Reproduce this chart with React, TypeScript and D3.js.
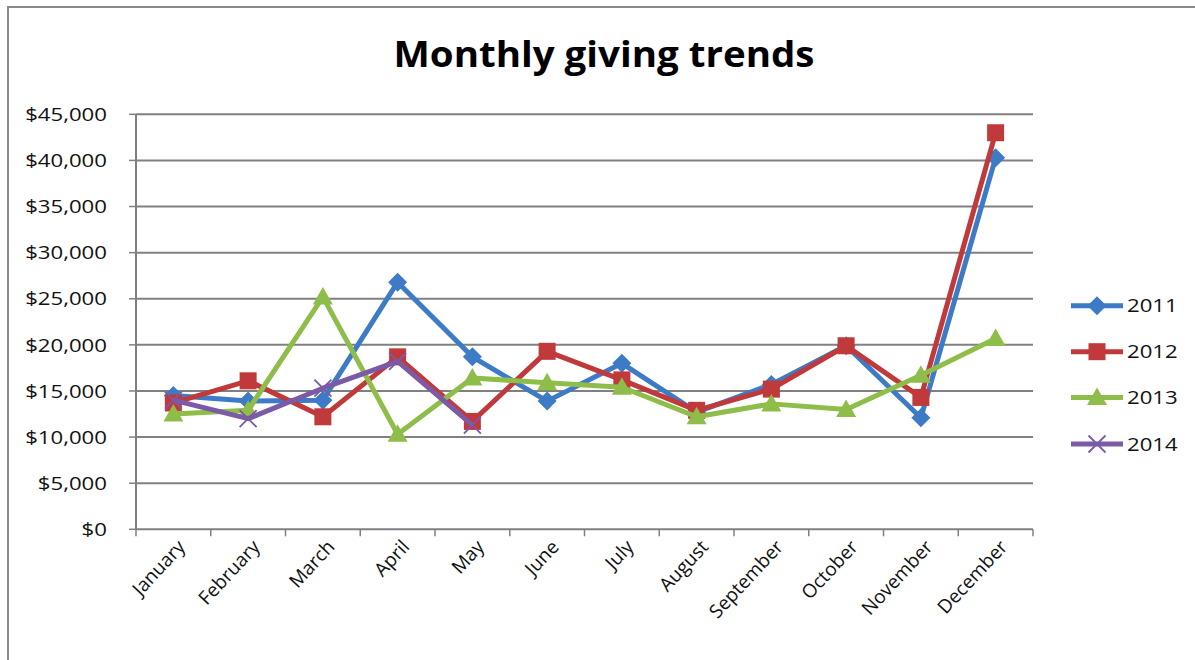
import React from "react";
import * as d3 from "d3";

const months = ["January","February","March","April","May","June","July","August","September","October","November","December"];
const series2011 = [14500, 13900, 14000, 26800, 18700, 13900, 18000, 12700, 15700, 19900, 12100, 40300];
const series2012 = [13700, 16100, 12200, 18700, 11700, 19300, 16200, 12900, 15200, 19900, 14300, 43000];
const series2013 = [12500, 12900, 25200, 10300, 16400, 15900, 15400, 12200, 13600, 13000, 16700, 20700];
const series2014 = [14000, 12000, 15300, 18200, 11300];
const seriesNames = ["2011", "2012", "2013", "2014"];
const yTicks = [0, 5000, 10000, 15000, 20000, 25000, 30000, 35000, 40000, 45000];
const title = "Monthly giving trends";

const colors = ["#3d7bc6", "#c0393b", "#8fbd4a", "#7b5aa6"];
const markers = ["diamond", "square", "triangle", "x"];

function Marker({ type, x, y, color }: { type: string; x: number; y: number; color: string }) {
  if (type === "diamond") {
    const s = 9.5;
    return <path d={`M${x},${y - s}L${x + s},${y}L${x},${y + s}L${x - s},${y}Z`} fill={color} />;
  }
  if (type === "square") {
    const s = 8.5;
    return <rect x={x - s} y={y - s} width={2 * s} height={2 * s} fill={color} />;
  }
  if (type === "triangle") {
    const s = 10;
    return <path d={`M${x},${y - s}L${x + s},${y + s * 0.75}L${x - s},${y + s * 0.75}Z`} fill={color} />;
  }
  const s = 8.5;
  return (
    <path d={`M${x - s},${y - s}L${x + s},${y + s}M${x - s},${y + s}L${x + s},${y - s}`} stroke={color} strokeWidth={1.8} fill="none" />
  );
}

export default function App() {
  const W = 1195, H = 660;
  const left = 136, right = 1033, top = 114.3, bottom = 529.3;
  const x = d3.scaleBand<string>().domain(months).range([left, right]);
  const y = d3.scaleLinear().domain([0, 45000]).range([bottom, top]);
  const cx = (m: string) => (x(m) as number) + x.bandwidth() / 2;
  const line = d3.line<number>().x((_, i) => cx(months[i])).y((d) => y(d));
  const data = [series2011, series2012, series2013, series2014];
  const fmt = (v: number) => "$" + d3.format(",")(v);
  const font = "'Open Sans', sans-serif";
  const legendY = [305.7, 351.7, 397.5, 444];
  const textColor = "#111";

  return (
    <svg width={W} height={H} style={{ position: "absolute", left: 0, top: 0, background: "#fff" }}>
      <rect x={0} y={0} width={W} height={H} fill="#fff" />
      <path d={`M8,${H}L8,7L${W},7`} stroke="#8a8a8a" strokeWidth={2} fill="none" />
      <text
        transform={`translate(604,67) scale(1.1,1)`}
        textAnchor="middle"
        fontFamily={font}
        fontWeight={700}
        fontSize={35}
        fill="#000"
      >
        {title}
      </text>
      {yTicks.map((t) => (
        <g key={t}>
          {t > 0 && <line x1={left} x2={right} y1={y(t)} y2={y(t)} stroke="#808080" strokeWidth={2} />}
          <line x1={left - 7} x2={left} y1={y(t)} y2={y(t)} stroke="#808080" strokeWidth={1.5} />
          <text
            transform={`translate(107,${y(t)}) scale(1.2,1)`}
            dy="0.36em"
            textAnchor="end"
            fontFamily={font}
            fontSize={18.5}
            fill={textColor}
          >
            {fmt(t)}
          </text>
        </g>
      ))}
      <line x1={left} x2={left} y1={top} y2={bottom} stroke="#808080" strokeWidth={2} />
      <line x1={left} x2={right} y1={bottom} y2={bottom} stroke="#808080" strokeWidth={2} />
      {[...months.map((m) => x(m) as number), right].map((v, i) => (
        <line key={i} x1={v} x2={v} y1={bottom} y2={bottom + 7} stroke="#808080" strokeWidth={1.5} />
      ))}
      {months.map((m) => (
        <text
          key={m}
          transform={`translate(${cx(m) + 8},${bottom + 14}) rotate(-47)`}
          textAnchor="end"
          dy="0.35em"
          fontFamily={font}
          fontSize={19}
          fill={textColor}
        >
          {m}
        </text>
      ))}
      {data.map((s, si) => (
        <g key={si}>
          <path d={line(s) || ""} fill="none" stroke={colors[si]} strokeWidth={5} strokeLinejoin="round" />
          {s.map((v, i) => (
            <Marker key={i} type={markers[si]} x={cx(months[i])} y={y(v)} color={colors[si]} />
          ))}
        </g>
      ))}
      {seriesNames.map((n, i) => (
        <g key={n}>
          <line x1={1071} x2={1123} y1={legendY[i]} y2={legendY[i]} stroke={colors[i]} strokeWidth={5} />
          <Marker type={markers[i]} x={1097} y={legendY[i]} color={colors[i]} />
          <text
            transform={`translate(1127,${legendY[i]}) scale(1.2,1)`}
            dy="0.36em"
            fontFamily={font}
            fontSize={18.5}
            fill={textColor}
          >
            {n}
          </text>
        </g>
      ))}
    </svg>
  );
}
